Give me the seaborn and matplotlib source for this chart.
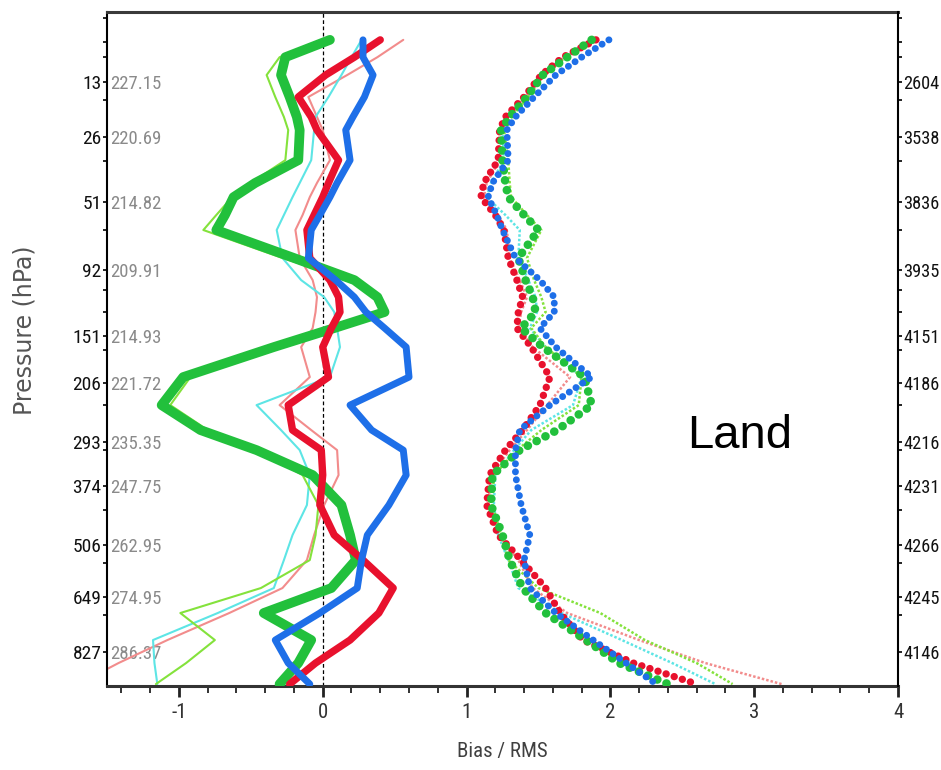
import numpy as np
import pandas as pd
import matplotlib
matplotlib.use("Agg")
import matplotlib.pyplot as plt
import matplotlib.transforms as mtransforms
from matplotlib import font_manager as fm
from matplotlib.ticker import FixedLocator
import seaborn as sns

# ---------------- data ----------------
pressure_levels = [6.8, 9.0, 11.75, 15.9, 20.5, 24.0, 33.6, 42.5, 48.8, 57.7, 66.0, 83.7,
                   99.9, 113.8, 127.1, 142.6, 162.6, 198.2, 236.2, 274.2, 307.7, 353.4,
                   414.4, 482.7, 545.5, 622.4, 697.3, 785.4, 866.4, 945.5]

bias_green = [0.05, -0.26, -0.29, -0.23, -0.18, -0.16, -0.17, -0.47, -0.62, -0.68, -0.74, -0.20,
              0.22, 0.38, 0.43, 0.08, -0.34, -0.97, -1.12, -0.85, -0.46, -0.07, 0.13, 0.19,
              0.23, 0.06, -0.41, -0.08, -0.17, -0.30]
bias_red = [0.40, 0.22, 0.02, -0.17, -0.08, -0.04, 0.11, 0.04, 0.00, -0.06, -0.11, -0.09,
            0.05, 0.11, 0.12, 0.06, 0.00, 0.04, -0.24, -0.21, -0.01, 0.00, -0.02, 0.08,
            0.28, 0.49, 0.39, 0.19, -0.05, -0.23]
bias_blue = [0.28, 0.28, 0.35, 0.29, 0.21, 0.16, 0.19, 0.10, 0.05, -0.02, -0.08, -0.10,
             0.09, 0.22, 0.30, 0.43, 0.58, 0.60, 0.19, 0.34, 0.56, 0.58, 0.46, 0.31,
             0.27, 0.24, -0.02, -0.33, -0.24, -0.09]
bias_cyan = [0.27, 0.20, 0.13, 0.04, -0.05, -0.06, -0.08, -0.16, -0.21, -0.27, -0.32, -0.28,
             -0.15, 0.01, 0.08, 0.10, 0.12, 0.05, -0.46, -0.29, -0.16, -0.09, -0.11, -0.21,
             -0.27, -0.34, -0.73, -1.18, -1.17, -1.15]
bias_lightgreen = [0.03, -0.30, -0.39, -0.33, -0.27, -0.24, -0.26, -0.50, -0.63, -0.74, -0.83, -0.28,
                   0.20, 0.37, 0.42, 0.07, -0.33, -0.92, -1.06, -0.80, -0.45, -0.14, -0.03, -0.05,
                   -0.09, -0.43, -0.99, -0.75, -0.95, -1.16]
bias_pink = [0.56, 0.38, 0.17, -0.10, -0.04, 0.00, 0.05, -0.04, -0.09, -0.14, -0.19, -0.16,
             -0.07, -0.04, -0.05, -0.07, -0.15, -0.09, -0.30, -0.08, 0.10, 0.11, 0.01, -0.06,
             -0.11, -0.28, -0.65, -1.08, -1.42, -1.70]

rms_green = [1.87, 1.70, 1.53, 1.42, 1.30, 1.24, 1.25, 1.27, 1.29, 1.40, 1.50, 1.36,
             1.41, 1.46, 1.48, 1.38, 1.53, 1.82, 1.87, 1.63, 1.37, 1.18, 1.17, 1.25,
             1.30, 1.39, 1.55, 1.83, 2.06, 2.40]
rms_red = [1.90, 1.67, 1.52, 1.40, 1.27, 1.23, 1.22, 1.12, 1.10, 1.20, 1.26, 1.29,
           1.35, 1.39, 1.36, 1.35, 1.45, 1.58, 1.51, 1.39, 1.27, 1.16, 1.14, 1.22,
           1.38, 1.55, 1.65, 1.81, 2.16, 2.60]
rms_blue = [1.99, 1.80, 1.62, 1.47, 1.34, 1.28, 1.29, 1.18, 1.15, 1.21, 1.25, 1.34,
            1.51, 1.61, 1.61, 1.51, 1.62, 1.87, 1.58, 1.37, 1.34, 1.34, 1.38, 1.44,
            1.40, 1.44, 1.62, 1.88, 2.11, 2.32]
rms_cyan = [1.88, 1.68, 1.53, 1.43, 1.31, 1.25, 1.26, 1.17, 1.14, 1.27, 1.37, 1.36,
            1.43, 1.48, 1.49, 1.44, 1.55, 1.80, 1.74, 1.45, 1.33, 1.20, 1.19, 1.22,
            1.29, 1.36, 1.66, 2.08, 2.43, 2.73]
rms_lightgreen = [1.88, 1.69, 1.54, 1.43, 1.31, 1.26, 1.29, 1.30, 1.31, 1.42, 1.52, 1.42,
                  1.47, 1.52, 1.55, 1.45, 1.55, 1.80, 1.78, 1.52, 1.35, 1.19, 1.18, 1.24,
                  1.29, 1.50, 1.93, 2.24, 2.60, 2.85]
rms_pink = [1.92, 1.68, 1.52, 1.41, 1.28, 1.23, 1.23, 1.14, 1.12, 1.22, 1.28, 1.30,
            1.37, 1.42, 1.38, 1.36, 1.46, 1.72, 1.56, 1.42, 1.30, 1.17, 1.15, 1.22,
            1.36, 1.46, 1.70, 2.20, 2.66, 3.19]

label_pressures = [13, 26, 51, 92, 151, 206, 293, 374, 506, 649, 827]
label_temps = ["227.15", "220.69", "214.82", "209.91", "214.93", "221.72",
               "235.35", "247.75", "262.95", "274.95", "286.37"]
label_counts = ["2604", "3538", "3836", "3935", "4151", "4186",
                "4216", "4231", "4266", "4245", "4146"]
minor_pressures = [4.6, 7.0, 9.0, 16.5, 34, 66, 108, 127, 166, 236, 308, 425, 553, 704]
x_major = [-1, 0, 1, 2, 3, 4]

# ---------------- style ----------------
sns.set_theme(style="ticks")

entries = fm.fontManager.ttflist
cond = None
for pref in ["Liberation Sans Narrow", "Roboto Condensed", "DejaVu Sans Condensed", "Open Sans Condensed"]:
    for f in entries:
        if f.name == pref and f.style == "normal" and f.weight in (400, "normal", "regular"):
            cond = f
            break
    if cond is not None:
        break
if cond is None:
    for f in entries:
        if str(f.stretch) in ("condensed", "semi-condensed") and f.style == "normal" and f.weight in (400, "normal"):
            cond = f
            break
if cond is not None:
    cond_fp = lambda size: fm.FontProperties(fname=cond.fname, size=size)
else:
    cond_fp = lambda size: fm.FontProperties(family="Liberation Sans", size=size)

plt.rcParams["font.family"] = ["Liberation Sans", "DejaVu Sans"]

fig = plt.figure(figsize=(9.41, 7.70), dpi=100)
ax = fig.add_axes([107 / 941, 1 - 686 / 770, 791 / 941, 674 / 770])

def fwd(p):
    return np.power(np.maximum(np.asarray(p, dtype=float), 1e-6), 0.286)

def inv(v):
    return np.power(np.maximum(np.asarray(v, dtype=float), 1e-9), 1 / 0.286)

GREEN = "#22C03C"
RED = "#E8112D"
BLUE = "#1E6FE8"
CYAN = "#5DE5E5"
LGREEN = "#84E23C"
PINK = "#F28C8C"

ax.axvline(0, color="black", lw=0.9, ls=(0, (3, 2)), zorder=1)

thin_bias = [(bias_pink, PINK), (bias_cyan, CYAN), (bias_lightgreen, LGREEN)]
thin_rms = [(rms_pink, PINK), (rms_cyan, CYAN), (rms_lightgreen, LGREEN)]
thick_bias = [(bias_green, GREEN, 7.0), (bias_red, RED, 5.3), (bias_blue, BLUE, 5.0)]
thick_rms = [(rms_red, RED, 5.3), (rms_green, GREEN, 6.2), (rms_blue, BLUE, 5.0)]

for vals, col in thin_bias:
    sns.lineplot(x=vals, y=pressure_levels, sort=False, estimator=None, orient="y",
                 ax=ax, color=col, linewidth=1.5, zorder=2)
for vals, col in thin_rms:
    sns.lineplot(x=vals, y=pressure_levels, sort=False, estimator=None, orient="y",
                 ax=ax, color=col, linewidth=1.8, linestyle=(0, (1, 0.8)), zorder=2)
for vals, col, lw in thick_bias:
    sns.lineplot(x=vals, y=pressure_levels, sort=False, estimator=None, orient="y",
                 ax=ax, color=col, linewidth=lw, zorder=3)
for vals, col, lw in thick_rms:
    sns.lineplot(x=vals, y=pressure_levels, sort=False, estimator=None, orient="y",
                 ax=ax, color=col, linewidth=lw, linestyle=(0, (0.01, 1.15)),
                 dash_capstyle="round", zorder=3)

ax.set_yscale("function", functions=(fwd, inv))
ax.set_xlim(-1.5, 4)
ax.set_ylim(953, 4.11)
ax.set_xlabel("")
ax.set_ylabel("")

ax.set_xticks(x_major)
ax.set_xticklabels([str(v) for v in x_major])
ax.set_xticks(np.arange(-1.4, 4.01, 0.2), minor=True)
ax.tick_params(axis="x", which="major", direction="out", length=8, width=2.0,
               color="#222222", pad=4, labelcolor="#333333")
ax.tick_params(axis="x", which="minor", direction="out", length=5, width=1.3, color="#222222")
for lbl in ax.get_xticklabels():
    lbl.set_fontproperties(cond_fp(15))

ax.set_yticks(label_pressures)
ax.set_yticklabels([str(p) for p in label_pressures])
ax.yaxis.set_minor_locator(FixedLocator(minor_pressures))
ax.tick_params(axis="y", which="both", direction="out", length=3, width=1.2,
               color="black", pad=1, left=True, right=False, labelcolor="#111111")
for lbl in ax.get_yticklabels():
    lbl.set_fontproperties(cond_fp(14))

trans = mtransforms.blended_transform_factory(ax.transAxes, ax.transData)
for p, t in zip(label_pressures, label_temps):
    ax.text(0.004, p, t, transform=trans, ha="left", va="center_baseline",
            color="#8a8a8a", fontproperties=cond_fp(13.5), zorder=1)

ax2 = ax.twinx()
ax2.set_yscale("function", functions=(fwd, inv))
ax2.set_ylim(953, 4.11)
ax2.set_yticks(label_pressures)
ax2.set_yticklabels(label_counts)
ax2.yaxis.set_minor_locator(FixedLocator(minor_pressures))
ax2.tick_params(axis="y", which="both", direction="out", length=3, width=1.2,
                color="black", pad=1, right=True, left=False, labelcolor="#111111")
for lbl in ax2.get_yticklabels():
    lbl.set_fontproperties(cond_fp(13.2))
ax2.grid(False)

for a in (ax, ax2):
    for s in a.spines.values():
        s.set_visible(True)
ax.spines["left"].set_linewidth(1.5)
ax.spines["left"].set_color("black")
ax.spines["right"].set_visible(False)
ax.spines["top"].set_linewidth(2.2)
ax.spines["top"].set_color("#3a3a3a")
ax.spines["bottom"].set_linewidth(2.2)
ax.spines["bottom"].set_color("#333333")
ax2.spines["right"].set_linewidth(1.5)
ax2.spines["right"].set_color("black")
for s in ("left", "top", "bottom"):
    ax2.spines[s].set_visible(False)
ax.grid(False)

fig.text(502 / 941, 1 - 752 / 770, "Bias / RMS", ha="center", va="center",
         color="#404040", fontproperties=cond_fp(15))
fig.text(25 / 941, 1 - 330 / 770, "Pressure (hPa)", rotation=90, ha="center", va="center",
         color="#555555", fontsize=17, family="DejaVu Sans")
ax.text(0.733, 0.353, "Land", transform=ax.transAxes, ha="left", va="baseline",
        fontsize=34, family="Liberation Sans", color="black", zorder=5)

fig.savefig("out.png", dpi=100)
